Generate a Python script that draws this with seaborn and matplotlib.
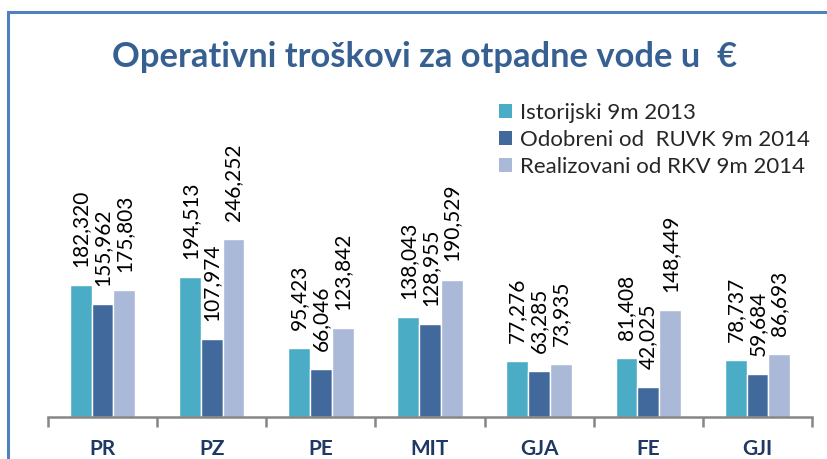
import matplotlib
matplotlib.use("Agg")
import matplotlib.pyplot as plt
from matplotlib.patches import Rectangle
import seaborn as sns
import pandas as pd

categories = ["PR", "PZ", "PE", "MIT", "GJA", "FE", "GJI"]
series_names = ["Istorijski 9m 2013", "Odobreni od  RUVK 9m 2014", "Realizovani od RKV 9m 2014"]
istorijski = [182320, 194513, 95423, 138043, 77276, 81408, 78737]
odobreni = [155962, 107974, 66046, 128955, 63285, 42025, 59684]
realizovani = [175803, 246252, 123842, 190529, 73935, 148449, 86693]
colors = ["#4BACC6", "#41699C", "#AAB9D8"]

rows = []
for name, vals in zip(series_names, [istorijski, odobreni, realizovani]):
    for c, v in zip(categories, vals):
        rows.append({"cat": c, "series": name, "value": v})
df = pd.DataFrame(rows)

sns.set_theme(style="white")
plt.rcParams["font.family"] = ["Lato", "DejaVu Sans"]

W, H = 827, 459
fig = plt.figure(figsize=(W / 100, H / 100), dpi=100)
ax = fig.add_axes([48 / W, 1 - 417 / H, (812 - 48) / W, (417 - 110) / H])

sns.barplot(data=df, x="cat", y="value", hue="series", order=categories,
            hue_order=series_names, palette=colors, width=0.6, ax=ax,
            edgecolor="white", linewidth=1, legend=False, saturation=1)

ax.set_ylim(0, 425500)
ax.set_xlim(-0.5, len(categories) - 0.5)
ax.set_xlabel("")
ax.set_ylabel("")
ax.set_yticks([])
for s in ["top", "right", "left"]:
    ax.spines[s].set_visible(False)
ax.spines["bottom"].set_color("#868686")
ax.spines["bottom"].set_linewidth(1.8)

ax.set_xticks(range(len(categories)))
ax.set_xticklabels(categories, fontsize=15, fontweight="bold", color="#1F3864")
ax.tick_params(axis="x", which="major", length=0, pad=16)
ax.set_xticks([i - 0.5 for i in range(len(categories) + 1)], minor=True)
ax.tick_params(axis="x", which="minor", length=7, width=1.8, color="#868686", bottom=True)

for cont in ax.containers:
    for bar in cont:
        h = bar.get_height()
        ax.annotate(f"{int(h):,}", (bar.get_x() + bar.get_width() / 2, h),
                    xytext=(0, 13), textcoords="offset points", rotation=90,
                    ha="center", va="bottom", fontsize=15, color="black")

fig.text(425 / W, 1 - 57 / H, "Operativni troškovi za otpadne vode u  €",
         ha="center", va="center", fontsize=24.8, fontweight="bold", color="#376092")

handles = [Rectangle((0, 0), 1, 1, facecolor=c, edgecolor="none") for c in colors]
fig.legend(handles, series_names, loc="upper left", bbox_to_anchor=(499 / W, 1 - 103 / H),
           frameon=False, fontsize=16, handlelength=0.6, handleheight=0.6,
           handletextpad=0.35, labelspacing=0.32, borderaxespad=0, borderpad=0)

fig.patches.append(Rectangle((8 / W, -0.1), 1.2, 1.1 - 12 / H, transform=fig.transFigure,
                             fill=False, edgecolor="#4F81BD", linewidth=2.2))

fig.savefig("out.png", dpi=100)
